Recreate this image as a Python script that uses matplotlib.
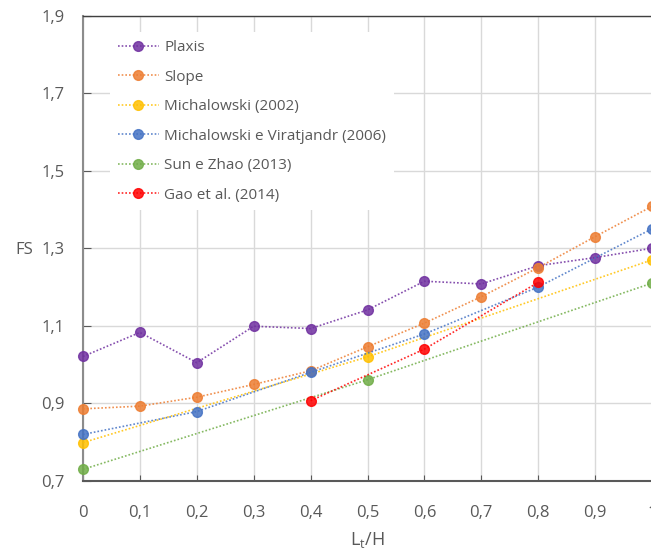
import matplotlib.pyplot as plt
from matplotlib.ticker import MultipleLocator, FuncFormatter

plt.rcParams['font.family'] = ['Open Sans', 'DejaVu Sans']
plt.rcParams['mathtext.fontset'] = 'custom'
plt.rcParams['mathtext.rm'] = 'Open Sans'
plt.rcParams['mathtext.it'] = 'Open Sans'

# data
plaxis_x = [0, 0.1, 0.2, 0.3, 0.4, 0.5, 0.6, 0.7, 0.8, 0.9, 1.0]
plaxis_y = [1.021, 1.083, 1.005, 1.099, 1.093, 1.141, 1.215, 1.208, 1.255, 1.276, 1.300]

slope_x = [0, 0.1, 0.2, 0.3, 0.4, 0.5, 0.6, 0.7, 0.8, 0.9, 1.0]
slope_y = [0.886, 0.893, 0.916, 0.949, 0.984, 1.046, 1.107, 1.175, 1.250, 1.330, 1.408]

mich2002_x = [0, 0.5, 1.0]
mich2002_y = [0.799, 1.020, 1.270]

mich2006_x = [0, 0.2, 0.4, 0.6, 0.8, 1.0]
mich2006_y = [0.820, 0.879, 0.980, 1.079, 1.200, 1.350]

sun_x = [0, 0.5, 1.0]
sun_y = [0.730, 0.961, 1.210]

gao_x = [0.4, 0.6, 0.8]
gao_y = [0.907, 1.040, 1.212]

y_ticks = [0.7, 0.9, 1.1, 1.3, 1.5, 1.7, 1.9]

series = [
    ("Plaxis", plaxis_x, plaxis_y, "#7030A0"),
    ("Slope", slope_x, slope_y, "#ED7D31"),
    ("Michalowski (2002)", mich2002_x, mich2002_y, "#FFC000"),
    ("Michalowski e Viratjandr (2006)", mich2006_x, mich2006_y, "#4472C4"),
    ("Sun e Zhao (2013)", sun_x, sun_y, "#70AD47"),
    ("Gao et al. (2014)", gao_x, gao_y, "#FF0000"),
]

fig = plt.figure(figsize=(6.51, 5.49), dpi=100)
ax = fig.add_axes([83 / 651, 68 / 549, 569 / 651, 465.5 / 549])

for label, xs, ys, col in series:
    ax.plot(xs, ys, linestyle=(0, (1, 1.2)), linewidth=1.2, color=col, alpha=0.85,
            marker='o', markersize=7, markerfacecolor=col, markeredgecolor=col,
            clip_on=False, label=label, zorder=3)

ax.set_xlim(0, 1.0)
ax.set_ylim(0.7, 1.9)
ax.xaxis.set_major_locator(MultipleLocator(0.1))
ax.set_yticks(y_ticks)
comma = FuncFormatter(lambda v, p: ("%g" % round(v, 2)).replace('.', ','))
ax.xaxis.set_major_formatter(comma)
ax.yaxis.set_major_formatter(comma)

ax.grid(True, color='#d9d9d9', linewidth=1)
ax.set_axisbelow(True)

ax.spines['right'].set_visible(False)
ax.spines['top'].set_color('#404040')
ax.spines['top'].set_linewidth(1)
ax.spines['left'].set_color('#8c8c8c')
ax.spines['left'].set_linewidth(1.5)
ax.spines['bottom'].set_color('#595959')
ax.spines['bottom'].set_linewidth(1.5)

ax.tick_params(axis='both', labelsize=12, labelcolor='#595959')
ax.tick_params(axis='y', direction='in', length=6, color='#595959', pad=13.5)
ax.tick_params(axis='x', direction='in', length=4, color='#595959', pad=17)

ax.set_xlabel("L$_\\mathrm{t}$/H", fontsize=13, color='#595959', labelpad=7)
fig.text(24 / 651, 1 - 250 / 549, "FS", fontsize=12, color='#595959',
         ha='center', va='center')

leg = ax.legend(loc='upper left', bbox_to_anchor=(0.034, 0.98), frameon=True,
                fontsize=11, handlelength=2.7, labelspacing=0.95,
                borderpad=0.5, handletextpad=0.35)
leg.get_frame().set_facecolor('white')
leg.get_frame().set_edgecolor('none')
leg.get_frame().set_alpha(1)
for t in leg.get_texts():
    t.set_color('#595959')

fig.savefig("out.png", dpi=100)
